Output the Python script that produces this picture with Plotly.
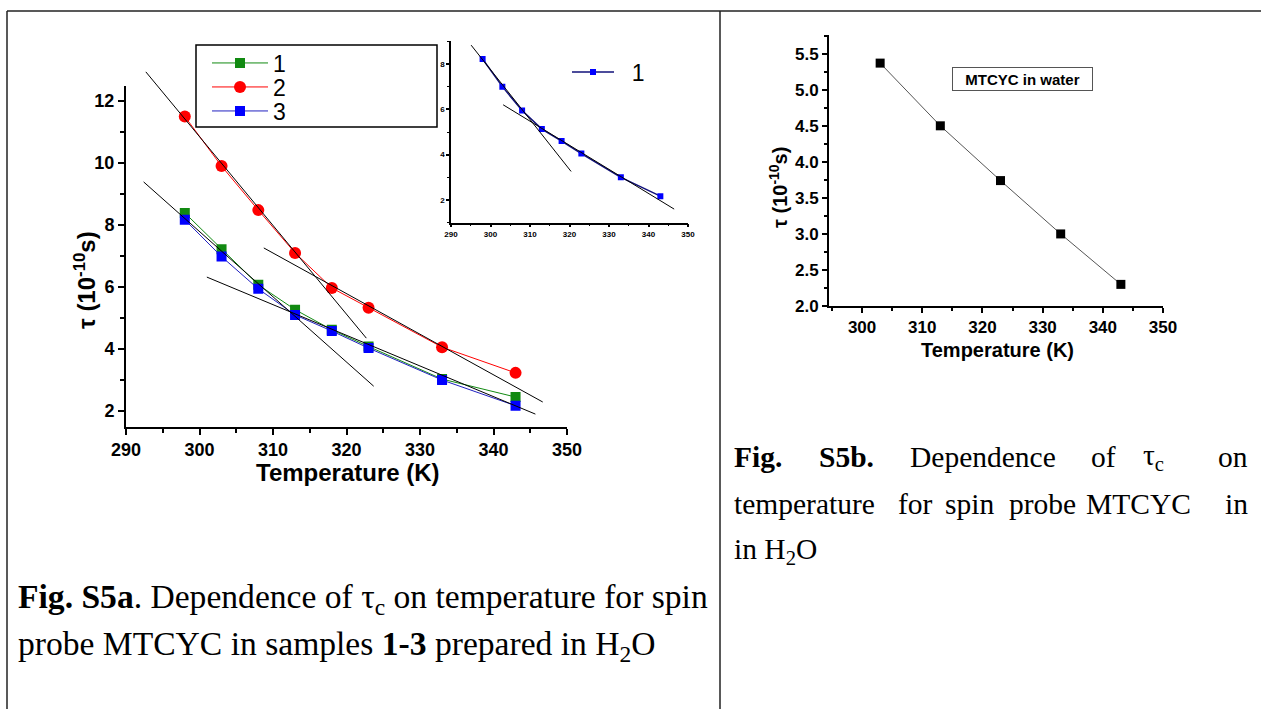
import plotly.graph_objects as go

W, H = 1261, 709

# ---------------- data ----------------
temps = [298, 303, 308, 313, 318, 323, 333, 343]
tau_1 = [8.39, 7.22, 6.07, 5.27, 4.62, 4.08, 3.03, 2.45]
tau_2 = [11.50, 9.90, 8.48, 7.10, 5.97, 5.33, 4.06, 3.23]
tau_3 = [8.17, 6.98, 5.94, 5.10, 4.58, 4.03, 3.00, 2.17]

# linear fits drawn on the main panel (T, tau end points)
fit_red_steep_T = [292.7, 322.7]
fit_red_steep_tau = [12.94, 4.35]
fit_red_flat_T = [308.75, 346.7]
fit_red_flat_tau = [7.26, 2.29]
fit_blue_steep_T = [292.4, 323.7]
fit_blue_steep_tau = [9.39, 2.80]
fit_blue_flat_T = [301.0, 345.7]
fit_blue_flat_tau = [6.32, 1.90]

# inset (sample 1)
inset_temps = [298, 303, 308, 313, 318, 323, 333, 343]
inset_tau = [8.22, 7.00, 5.95, 5.13, 4.60, 4.05, 3.00, 2.17]
inset_fit_steep_T = [295.1, 320.4]
inset_fit_steep_tau = [8.83, 3.26]
inset_fit_flat_T = [303.2, 346.5]
inset_fit_flat_tau = [6.20, 1.60]

# right panel: MTCYC in water
water_temps = [303, 313, 323, 333, 343]
water_tau = [5.37, 4.50, 3.74, 3.00, 2.30]

main_xticks = [290, 300, 310, 320, 330, 340, 350]
main_yticks = [2, 4, 6, 8, 10, 12]

# ---------------- helpers ----------------
def px(x):
    return x / W

def py(y):
    return 1 - y / H

GREEN = "#118a11"
RED = "#ff0000"
BLUE = "#0000ff"
NAVY = "#10107a"

fig = go.Figure()

fig.add_trace(go.Scatter(x=temps, y=tau_1, mode="lines+markers", name="1",
                         line=dict(color=GREEN, width=1),
                         marker=dict(symbol="square", size=10, color=GREEN),
                         xaxis="x", yaxis="y", legend="legend"))
fig.add_trace(go.Scatter(x=temps, y=tau_2, mode="lines+markers", name="2",
                         line=dict(color=RED, width=1),
                         marker=dict(symbol="circle", size=12, color=RED),
                         xaxis="x", yaxis="y", legend="legend2"))
fig.add_trace(go.Scatter(x=temps, y=tau_3, mode="lines+markers", name="3",
                         line=dict(color="#2020c0", width=1),
                         marker=dict(symbol="square", size=10, color=BLUE),
                         xaxis="x", yaxis="y", legend="legend3"))

for fx, fy in [(fit_red_steep_T, fit_red_steep_tau), (fit_red_flat_T, fit_red_flat_tau),
               (fit_blue_steep_T, fit_blue_steep_tau), (fit_blue_flat_T, fit_blue_flat_tau)]:
    fig.add_trace(go.Scatter(x=fx, y=fy, mode="lines", showlegend=False,
                             line=dict(color="black", width=1),
                             xaxis="x4", yaxis="y4"))

fig.add_trace(go.Scatter(x=inset_temps, y=inset_tau, mode="lines+markers", name="\u00a0\u00a01",
                         line=dict(color=NAVY, width=1.5),
                         marker=dict(symbol="square", size=6, color=BLUE),
                         xaxis="x2", yaxis="y2", legend="legend4"))
for fx, fy in [(inset_fit_steep_T, inset_fit_steep_tau), (inset_fit_flat_T, inset_fit_flat_tau)]:
    fig.add_trace(go.Scatter(x=fx, y=fy, mode="lines", showlegend=False,
                             line=dict(color="black", width=1),
                             xaxis="x2", yaxis="y2"))

fig.add_trace(go.Scatter(x=water_temps, y=water_tau, mode="lines+markers", showlegend=False,
                         line=dict(color="#555555", width=1),
                         marker=dict(symbol="square", size=9, color="black"),
                         xaxis="x3", yaxis="y3"))

TICKFONT = dict(family="Liberation Sans", size=18, color="black", weight="bold")

def axis_style(**kw):
    d = dict(showline=True, linecolor="black", linewidth=2, ticks="outside",
             ticklen=6, tickwidth=2, tickcolor="black", showgrid=False,
             zeroline=False, mirror=False, fixedrange=True, automargin=False)
    d.update(kw)
    return d

main_xdom = [px(126), px(567)]
main_ydom = [py(426.5), py(85.5)]

fig.update_layout(
    width=W, height=H, autosize=False,
    margin=dict(l=0, r=0, t=0, b=0, pad=0, autoexpand=False),
    paper_bgcolor="white", plot_bgcolor="rgba(0,0,0,0)",
    xaxis=axis_style(domain=main_xdom, range=[290, 350], anchor="y",
                     tickvals=main_xticks, tickfont=TICKFONT,
                     minor=dict(ticks="outside", ticklen=4, tickwidth=2, dtick=5, tick0=290)),
    yaxis=axis_style(domain=main_ydom, range=[1.5, 12.5], anchor="x",
                     tickvals=main_yticks, tickfont=TICKFONT,
                     minor=dict(ticks="outside", ticklen=4, tickwidth=2, dtick=1, tick0=1)),
    xaxis4=dict(domain=main_xdom, range=[290, 350], anchor="y4", visible=False, fixedrange=True),
    yaxis4=dict(domain=[py(426.5), py(60)], range=[1.5, 1.5 + (426.5 - 60) / 31.0],
                anchor="x4", visible=False, fixedrange=True),
    xaxis2=axis_style(domain=[px(451), px(688)], range=[290, 350], anchor="y2",
                      linewidth=1.5, ticklen=3, tickwidth=1.5, dtick=10, tick0=290,
                      tickfont=dict(family="Liberation Sans", size=8, color="black", weight="bold"),
                      minor=dict(ticks="outside", ticklen=2, tickwidth=1, dtick=5, tick0=290)),
    yaxis2=axis_style(domain=[py(222.7), py(41.3)], range=[1, 9], anchor="x2",
                      linewidth=1.5, ticklen=3, tickwidth=1.5, dtick=2, tick0=0,
                      tickfont=dict(family="Liberation Sans", size=8, color="black", weight="bold"),
                      minor=dict(ticks="outside", ticklen=2, tickwidth=1, dtick=1, tick0=0)),
    xaxis3=axis_style(domain=[px(829), px(1163)], range=[294.5, 350], anchor="y3",
                      dtick=10, tick0=300, ticklen=5,
                      tickfont=dict(family="Liberation Sans", size=17, color="black", weight="bold"),
                      minor=dict(ticks="outside", ticklen=3, tickwidth=2, dtick=5, tick0=300)),
    yaxis3=axis_style(domain=[py(306), py(35)], range=[2.0, 5.76], anchor="x3",
                      dtick=0.5, tick0=2, tickformat=".1f", ticklen=5,
                      tickfont=dict(family="Liberation Sans", size=17, color="black", weight="bold"),
                      minor=dict(ticks="outside", ticklen=3, tickwidth=2, dtick=0.25, tick0=2)),
)

LEG = dict(bgcolor="rgba(0,0,0,0)", borderwidth=0, itemwidth=56,
           font=dict(family="Liberation Sans", size=23, color="black"),
           xanchor="left", yanchor="middle", itemclick=False, itemdoubleclick=False)
fig.update_layout(
    legend=dict(LEG, x=px(207), y=py(63)),
    legend2=dict(LEG, x=px(207), y=py(87)),
    legend3=dict(LEG, x=px(207), y=py(111)),
    legend4=dict(LEG, x=px(567), y=py(72), itemwidth=42),
)

# ---------------- shapes (table frame, legend box) ----------------
frame = dict(type="line", xref="paper", yref="paper", line=dict(color="#222222", width=1.5))
fig.add_shape(frame, x0=px(7), x1=1, y0=py(11), y1=py(11))
fig.add_shape(frame, x0=px(7), x1=px(7), y0=py(11), y1=0)
fig.add_shape(frame, x0=px(720), x1=px(720), y0=py(11), y1=0)
fig.add_shape(type="rect", xref="paper", yref="paper", x0=px(196), x1=px(437),
              y0=py(127), y1=py(45), line=dict(color="black", width=1.5))

# ---------------- text ----------------
def ann(text, x, y, size, family="Liberation Sans", bold=False, angle=0,
        xanchor="center", yanchor="middle", **kw):
    fig.add_annotation(text=text, x=px(x), y=py(y), xref="paper", yref="paper",
                       showarrow=False, textangle=angle, xanchor=xanchor, yanchor=yanchor,
                       font=dict(family=family, size=size, color="black",
                                 weight="bold" if bold else "normal"), **kw)

ann("Temperature (K)", 348, 472, 24, bold=True)
ann("τ (10<sup>-10</sup>s)", 85, 280, 24, bold=True, angle=-90)
ann("Temperature (K)", 997, 350, 20, bold=True)
ann("τ (10<sup>-10</sup>s)", 778, 188, 20, bold=True, angle=-90)
fig.add_annotation(text="MTCYC in water", x=px(1022.5), y=py(79), xref="paper", yref="paper",
                   showarrow=False, xanchor="center", yanchor="middle",
                   width=139, height=22, borderpad=0, borderwidth=1, bordercolor="#555555",
                   font=dict(family="Liberation Sans", size=15, color="black", weight="bold"))

SERIF = "Liberation Serif"
ann("<b>Fig. S5a</b>. Dependence of τ<sub>c</sub> on temperature for spin", 16, 599, 33.6,
    family=SERIF, xanchor="left")
ann("probe MTCYC in samples <b>1-3</b> prepared in H<sub>2</sub>O", 16, 646, 33.6,
    family=SERIF, xanchor="left")

line1 = [("<b>Fig.</b>", 732, "left"), ("<b>S5b.</b>", 817, "left"), ("Dependence", 908, "left"),
         ("of", 1089, "left"), ("τ<sub>c</sub>", 1141, "left"), ("on", 1250, "right")]
line2 = [("temperature", 732, "left"), ("for", 896, "left"), ("spin", 943, "left"),
         ("probe", 1007, "left"), ("MTCYC", 1084, "left"), ("in", 1250, "right")]
for t, x, a in line1:
    ann(t, x, 457, 29.5, family=SERIF, xanchor=a)
for t, x, a in line2:
    ann(t, x, 504, 29.5, family=SERIF, xanchor=a)
ann("in H<sub>2</sub>O", 732, 551, 29.5, family=SERIF, xanchor="left")

fig.write_html("out.html", config={"displayModeBar": False},
               post_script="document.body.style.margin='0';document.body.style.overflow='hidden';")
